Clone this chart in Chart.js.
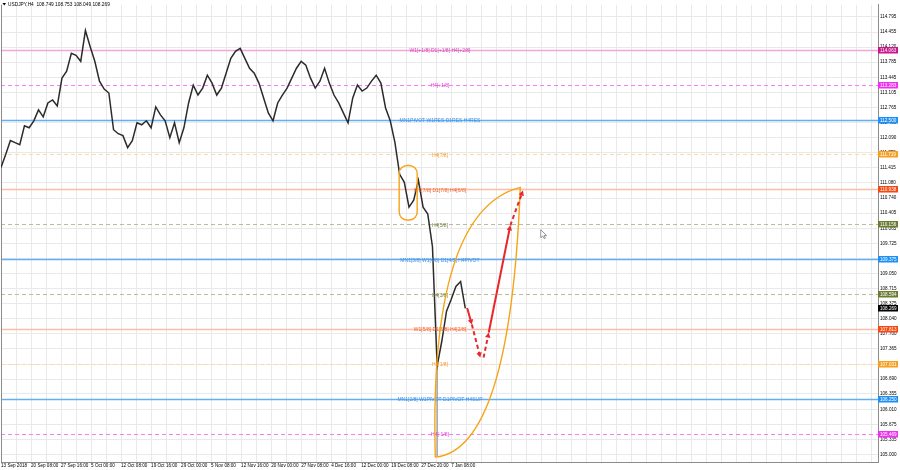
<!DOCTYPE html>
<html lang="en">
<head>
<meta charset="UTF-8">
<title>USDJPY,H4</title>
<script src="https://cdn.jsdelivr.net/npm/chart.js@4"></script>
<style>
  body { margin: 0; background: #fff; }
  .wrap { position: relative; width: 900px; height: 470px; }
</style>
</head>
<body>
<div class="wrap"><canvas id="chart"></canvas></div>
<script>
// one close every 5 H4 bars
const barsPerSample = 5;
const closes = [
  111.427, 111.716, 112.027, 111.982, 111.938, 112.360, 112.315, 112.471, 112.715, 112.560,
  112.871, 112.937, 112.804, 113.426, 113.581, 113.981, 113.936, 113.803, 114.492, 114.136,
  113.803, 113.359, 113.181, 113.093, 112.271, 112.182, 112.138, 111.871, 112.027, 112.426,
  112.382, 112.471, 112.315, 112.782, 112.604, 112.471, 112.093, 112.426, 111.982, 112.315,
  112.871, 113.270, 113.048, 113.204, 113.492, 113.315, 113.048, 113.204, 113.537, 113.870,
  114.025, 114.092, 113.870, 113.648, 113.537, 113.315, 112.982, 112.648, 112.471, 112.871,
  113.048, 113.204, 113.426, 113.648, 113.803, 113.714, 113.426, 113.204, 113.359, 113.648,
  113.315, 113.048, 112.871, 112.648, 112.426, 112.982, 113.270, 113.137, 113.204, 113.359,
  113.492, 113.315, 112.759, 112.471, 111.982, 111.272, 111.094, 110.539, 110.694, 111.138,
  110.539, 110.383, 109.651, 106.986, 107.541, 108.207, 108.474, 108.762, 108.873, 108.269
];
// flash-crash wick (3 Jan)
const wickSample = 93;
const wickRange = [104.95, 107.10];

const ohlc = [108.749, 108.753, 108.049, 108.269];

const xLabels = ["13 Sep 2018", "20 Sep 08:00", "27 Sep 16:00", "5 Oct 00:00", "12 Oct 08:00",
  "19 Oct 16:00", "29 Oct 00:00", "5 Nov 08:00", "12 Nov 16:00", "20 Nov 00:00", "27 Nov 08:00",
  "4 Dec 16:00", "12 Dec 00:00", "19 Dec 08:00", "27 Dec 20:00", "7 Jan 08:00"];
const barsPerLabel = 32;

const yTicks = [114.795, 114.455, 114.120, 113.785, 113.445, 113.105, 112.765, 112.430, 112.090,
  111.755, 111.415, 111.080, 110.740, 110.405, 110.065, 109.725, 109.385, 109.050, 108.715,
  108.375, 108.040, 107.700, 107.365, 107.025, 106.690, 106.355, 106.010, 105.675, 105.335, 105.000];

// Murrey math levels
const levelPrices = [114.063, 113.283, 112.500, 111.719, 110.938, 110.156, 109.375, 108.594,
  107.813, 107.031, 106.250, 105.469];
const levelNames = ["W1[+1/8] D1[+1/8] H4[+2/8]", "H4[+1/8]", "MN1PIVOT W1RES D1RES H4RES",
  "H4[7/8]", "W1[7/8] D1[7/8] H4[6/8]", "H4[5/8]", "MN1[3/8] W1[4/8] D1[4/8] H4PIVOT", "H4[3/8]",
  "W1[5/8] D1[5/8] H4[2/8]", "H4[1/8]", "MN1[2/8] W1PIVOT D1PIVOT H4SUP", "H4[-1/8]"];
const levelKinds = ["mag", "magd", "blue", "orad", "red", "olvd", "blue", "olvd", "red", "orad", "blue", "magd"];
const labelBar = 468;

// drawn forecast path (bar, price)
const pathBars = [497, 502, 511, 514.5, 520, 543, 556.5];
const pathPrices = [108.28, 107.91, 107.17, 107.17, 107.73, 110.13, 110.91];
const pathSegs = [[0, 1, false], [1, 2, true], [3, 4, true], [4, 5, false], [5, 6, true]];

// lens outline: bottom, top, left control, right control
const lensBars = [463, 553.6, 456, 543];
const lensPrices = [104.94, 110.98, 110.45, 105.10];
// consolidation box
const boxBars = [424.5, 443.7];
const boxPrices = [111.47, 110.25];

const kindStyle = {
  mag:  { line: "#f3a6dc", dash: [], width: 1.5, text: "#d63cbc", box: "#c8168f" },
  magd: { line: "#f57ef0", dash: [4, 3], width: 1, text: "#e83ae0", box: "#f030f0" },
  blue: { line: "#63aef5", dash: [], width: 1.6, text: "#3d92e6", box: "#1e8ff5" },
  orad: { line: "#ffd8a8", dash: [4, 3], width: 1, text: "#f59a30", box: "#f7a020" },
  red:  { line: "#ffbca4", dash: [], width: 1.5, text: "#f0602a", box: "#f44a12" },
  olvd: { line: "#bcbc9a", dash: [4, 3], width: 1, text: "#6f7f3a", box: "#6b7d2e" }
};

function arrowHead(ctx, x0, y0, x1, y1, size) {
  const a = Math.atan2(y1 - y0, x1 - x0);
  ctx.beginPath();
  ctx.moveTo(x1, y1);
  ctx.lineTo(x1 - size * Math.cos(a) + size * 0.55 * Math.sin(a), y1 - size * Math.sin(a) - size * 0.55 * Math.cos(a));
  ctx.lineTo(x1 - size * Math.cos(a) - size * 0.55 * Math.sin(a), y1 - size * Math.sin(a) + size * 0.55 * Math.cos(a));
  ctx.closePath();
  ctx.fill();
}

const overlay = {
  id: "overlay",
  beforeDatasetsDraw(chart) {
    const { ctx, chartArea: a, scales: { y } } = chart;
    ctx.save();
    levelPrices.forEach((p, i) => {
      const st = kindStyle[levelKinds[i]];
      const py = Math.round(y.getPixelForValue(p)) + 0.5;
      ctx.strokeStyle = st.line;
      ctx.lineWidth = st.width;
      ctx.setLineDash(st.dash);
      ctx.beginPath();
      ctx.moveTo(a.left, py);
      ctx.lineTo(a.right, py);
      ctx.stroke();
    });
    ctx.setLineDash([]);
    ctx.strokeStyle = "#8c8c8c";
    ctx.lineWidth = 1;
    ctx.beginPath();
    ctx.moveTo(a.left + 0.5, a.top);
    ctx.lineTo(a.left + 0.5, a.bottom);
    ctx.stroke();
    ctx.restore();
  },
  afterDatasetsDraw(chart) {
    const { ctx, scales: { x, y } } = chart;
    ctx.save();
    // level captions
    ctx.font = "5px 'Liberation Sans'";
    ctx.textAlign = "center";
    ctx.textBaseline = "middle";
    const lx = x.getPixelForValue(labelBar);
    levelPrices.forEach((p, i) => {
      ctx.fillStyle = kindStyle[levelKinds[i]].text;
      ctx.fillText(levelNames[i], lx, y.getPixelForValue(p) + 1.2);
    });

    // orange drawings
    ctx.strokeStyle = "#f5a418";
    ctx.lineWidth = 1.4;
    const bx0 = x.getPixelForValue(boxBars[0]), bx1 = x.getPixelForValue(boxBars[1]);
    const by0 = y.getPixelForValue(boxPrices[0]), by1 = y.getPixelForValue(boxPrices[1]);
    ctx.beginPath();
    ctx.roundRect(bx0, by0, bx1 - bx0, by1 - by0, 8);
    ctx.stroke();

    const L = lensBars.map((b, i) => [x.getPixelForValue(b), y.getPixelForValue(lensPrices[i])]);
    ctx.beginPath();
    ctx.moveTo(L[0][0], L[0][1]);
    ctx.quadraticCurveTo(L[2][0], L[2][1], L[1][0], L[1][1]);
    ctx.quadraticCurveTo(L[3][0], L[3][1], L[0][0], L[0][1]);
    ctx.stroke();

    // red forecast arrows
    ctx.strokeStyle = "#e8262c";
    ctx.fillStyle = "#e8262c";
    ctx.lineWidth = 2;
    pathSegs.forEach(([i0, i1, dashed]) => {
      const x0 = x.getPixelForValue(pathBars[i0]), y0 = y.getPixelForValue(pathPrices[i0]);
      const x1 = x.getPixelForValue(pathBars[i1]), y1 = y.getPixelForValue(pathPrices[i1]);
      const a = Math.atan2(y1 - y0, x1 - x0);
      ctx.setLineDash(dashed ? [4, 3] : []);
      ctx.beginPath();
      ctx.moveTo(x0, y0);
      ctx.lineTo(x1 - 4 * Math.cos(a), y1 - 4 * Math.sin(a));
      ctx.stroke();
      ctx.setLineDash([]);
      arrowHead(ctx, x0, y0, x1, y1, 5);
    });
    ctx.restore();
  },
  afterDraw(chart) {
    const { ctx, chartArea: a, scales: { y } } = chart;
    ctx.save();
    ctx.font = "4.6px 'Liberation Sans'";
    ctx.textBaseline = "middle";
    ctx.textAlign = "left";
    const boxes = levelPrices.map((p, i) => [p, kindStyle[levelKinds[i]].box]);
    boxes.push([ohlc[3], "#000000"]);
    boxes.forEach(([p, c]) => {
      const py = Math.round(y.getPixelForValue(p));
      ctx.fillStyle = c;
      ctx.fillRect(a.right, py - 3, 20, 6.5);
      ctx.fillStyle = "#fff";
      ctx.fillText(p.toFixed(3), a.right + 2, py + 0.3);
    });
    // symbol header
    ctx.fillStyle = "#000";
    ctx.beginPath();
    ctx.moveTo(2.5, 3);
    ctx.lineTo(6, 3);
    ctx.lineTo(4.25, 5.5);
    ctx.closePath();
    ctx.fill();
    ctx.font = "4.8px 'Liberation Sans'";
    ctx.fillText("USDJPY,H4  " + ohlc.map(v => v.toFixed(3)).join(" "), 8, 4.5);

    // mouse pointer left in the screenshot
    const cx = a.left + (a.right - a.left) * 0.6155, cy = a.top + (a.bottom - a.top) * 0.492;
    ctx.fillStyle = "#fff";
    ctx.strokeStyle = "#777";
    ctx.lineWidth = 0.8;
    ctx.beginPath();
    ctx.moveTo(cx, cy);
    ctx.lineTo(cx, cy + 8);
    ctx.lineTo(cx + 2, cy + 6.3);
    ctx.lineTo(cx + 3.5, cy + 9);
    ctx.lineTo(cx + 4.6, cy + 8.4);
    ctx.lineTo(cx + 3.3, cy + 5.8);
    ctx.lineTo(cx + 5.8, cy + 5.8);
    ctx.closePath();
    ctx.fill();
    ctx.stroke();
    ctx.restore();
  }
};

const lastBar = 935;
new Chart(document.getElementById("chart"), {
  type: "line",
  data: {
    datasets: [
      {
        data: closes.map((v, i) => ({ x: i * barsPerSample, y: v })),
        borderColor: "#2b2b2b",
        borderWidth: 1.5,
        pointRadius: 0,
        tension: 0
      },
      {
        data: wickRange.map(v => ({ x: wickSample * barsPerSample, y: v })),
        borderColor: "#a0a0a0",
        borderWidth: 1.4,
        pointRadius: 0
      }
    ]
  },
  options: {
    responsive: true,
    maintainAspectRatio: false,
    animation: false,
    layout: { padding: { left: 1, top: 1, right: 0, bottom: 0 } },
    plugins: { legend: { display: false }, tooltip: { enabled: false } },
    scales: {
      x: {
        type: "linear",
        min: 0,
        max: lastBar,
        afterBuildTicks: s => {
          const t = [];
          for (let b = 0; b <= lastBar; b += barsPerLabel / 2) t.push({ value: b });
          s.ticks = t;
        },
        afterFit: s => { s.height = 8; },
        grid: { color: "#e9e9e9", drawTicks: false },
        border: { color: "#8c8c8c" },
        ticks: {
          autoSkip: false,
          maxRotation: 0,
          align: "start",
          padding: 1,
          color: "#000",
          font: { size: 4.6, family: "'Liberation Sans'" },
          callback: v => (v % barsPerLabel === 0 ? (xLabels[v / barsPerLabel] || "") : "")
        }
      },
      y: {
        position: "right",
        min: 104.832,
        max: 115.069,
        afterBuildTicks: s => { s.ticks = yTicks.map(v => ({ value: v })); },
        afterFit: s => { s.width = 22; },
        grid: { color: "#e9e9e9", drawTicks: false },
        border: { color: "#8c8c8c" },
        ticks: {
          padding: 2,
          color: "#000",
          font: { size: 4.6, family: "'Liberation Sans'" },
          callback: v => v.toFixed(3)
        }
      }
    }
  },
  plugins: [overlay]
});
</script>
</body>
</html>
